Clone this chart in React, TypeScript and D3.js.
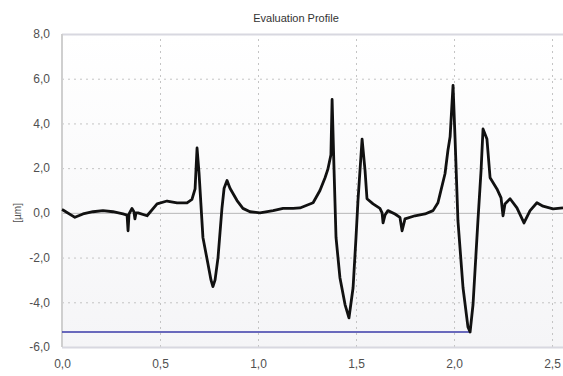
import React, { useEffect, useRef } from "react";
import * as d3 from "d3";

// profile trace, [x in mm, y in µm]
const PROFILE_X = [
	0.0, 0.005, 0.066, 0.107, 0.158, 0.209, 0.26, 0.311, 0.332, 0.337, 0.342, 0.357, 0.367, 0.372, 0.378, 0.388,
	0.434, 0.485, 0.536, 0.587, 0.638, 0.663, 0.679, 0.689, 0.699, 0.719, 0.745, 0.76, 0.77, 0.781,
	0.796, 0.816, 0.827, 0.842, 0.857, 0.893, 0.923, 0.959, 1.01, 1.077, 1.128, 1.179, 1.214, 1.281, 1.316, 1.342,
	1.357, 1.372, 1.378, 1.388, 1.398, 1.418, 1.444, 1.464, 1.485, 1.5, 1.51, 1.531, 1.546, 1.556, 1.587, 1.622,
	1.633, 1.638, 1.648, 1.663, 1.699, 1.724, 1.735, 1.75, 1.801, 1.852, 1.893, 1.918, 1.929, 1.954, 1.969, 1.98,
	1.995, 2.005, 2.02, 2.046, 2.071, 2.082, 2.097, 2.122, 2.138, 2.148, 2.168, 2.184, 2.219, 2.24, 2.25, 2.26,
	2.286, 2.321, 2.357, 2.388, 2.423, 2.454, 2.505, 2.556
];
const PROFILE_Y = [
	0.15, 0.13, -0.2, -0.05, 0.05, 0.1, 0.05, -0.05, -0.1, -0.8, -0.05, 0.2, 0.05, -0.27, 0.0, 0.0,
	-0.13, 0.4, 0.53, 0.45, 0.45, 0.6, 1.07, 2.9, 1.8, -1.1, -2.3, -3.0, -3.3, -3.0,
	-2.0, 0.2, 1.1, 1.45, 1.1, 0.55, 0.2, 0.05, 0.0, 0.1, 0.2, 0.2, 0.22, 0.45, 1.0, 1.57,
	1.97, 2.6, 5.07, 1.9, -1.1, -2.9, -4.1, -4.7, -3.35, -1.1, 0.55, 3.3, 1.9, 0.63, 0.4, 0.2,
	0.0, -0.45, -0.1, 0.1, -0.05, -0.2, -0.8, -0.27, -0.13, -0.05, 0.1, 0.45, 0.85, 1.75, 2.8, 3.4,
	5.7, 3.4, -0.35, -3.35, -5.1, -5.33, -4.1, -0.35, 1.9, 3.75, 3.3, 1.57, 1.07, 0.67, -0.13, 0.4,
	0.63, 0.22, -0.45, 0.1, 0.45, 0.3, 0.18, 0.22
];
const X_TICKS = [0, 0.5, 1.0, 1.5, 2.0, 2.5];
const Y_TICKS = [-6, -4, -2, 0, 2, 4, 6, 8];
const MIN_LINE_X = [0, 2.082];
const MIN_LINE_Y = -5.33;

const W = 563;
const H = 376;
const M = { top: 34, right: 0, bottom: 29, left: 62 };

const fmt = (d: number) => d.toFixed(1).replace(".", ",");

export default function App() {
	const ref = useRef<SVGSVGElement>(null);

	useEffect(() => {
		const svg = d3.select(ref.current);
		svg.selectAll("*").remove();

		const x = d3.scaleLinear().domain([0, 2.556]).range([M.left, W - M.right]);
		const y = d3.scaleLinear().domain([-6, 8]).range([H - M.bottom, M.top]);

		const grad = svg
			.append("defs")
			.append("linearGradient")
			.attr("id", "bg")
			.attr("x1", 0)
			.attr("y1", 0)
			.attr("x2", 0)
			.attr("y2", 1);
		grad.append("stop").attr("offset", "0%").attr("stop-color", "#ffffff");
		grad.append("stop").attr("offset", "100%").attr("stop-color", "#f5f5f7");

		svg
			.append("rect")
			.attr("x", M.left)
			.attr("y", M.top)
			.attr("width", W - M.left - M.right)
			.attr("height", H - M.top - M.bottom)
			.attr("fill", "url(#bg)");

		// grid
		const gx = svg
			.append("g")
			.attr("transform", `translate(0,${H - M.bottom})`)
			.call(
				d3.axisBottom(x)
					.tickValues(X_TICKS)
					.tickSize(-(H - M.top - M.bottom))
					.tickFormat(fmt as any)
					.tickPadding(12)
			);
		gx.select(".domain").remove();
		gx.selectAll(".tick line")
			.attr("stroke", (d: any) => (d === 0 ? "none" : "#c4c4c4"))
			.attr("stroke-dasharray", "2,4");
		gx.selectAll("text")
			.attr("font-family", "Liberation Sans, Arial, sans-serif")
			.attr("font-size", 12)
			.attr("fill", "#505050");

		const gy = svg
			.append("g")
			.attr("transform", `translate(${M.left},0)`)
			.call(
				d3.axisLeft(y)
					.tickValues(Y_TICKS)
					.tickSize(-(W - M.left - M.right))
					.tickFormat(fmt as any)
					.tickPadding(12)
			);
		gy.select(".domain").remove();
		gy.selectAll(".tick line")
			.attr("stroke", (d: any) => (d === 0 ? "#b8b8b8" : d === 8 || d === -6 ? "#d8d8e0" : "#c4c4c4"))
			.attr("stroke-width", (d: any) => (d === 8 || d === -6 ? 2 : 1))
			.attr("stroke-dasharray", (d: any) => (d === 0 || d === 8 || d === -6 ? null : "2,4"));
		gy.selectAll("text")
			.attr("font-family", "Liberation Sans, Arial, sans-serif")
			.attr("font-size", 12)
			.attr("fill", "#505050");

		// left frame
		svg
			.append("line")
			.attr("x1", M.left)
			.attr("x2", M.left)
			.attr("y1", M.top)
			.attr("y2", H - M.bottom)
			.attr("stroke", "#cfcfcf")
			.attr("stroke-width", 2);

		// minimum marker line
		svg
			.append("line")
			.attr("x1", x(MIN_LINE_X[0]))
			.attr("x2", x(MIN_LINE_X[1]))
			.attr("y1", y(MIN_LINE_Y))
			.attr("y2", y(MIN_LINE_Y))
			.attr("stroke", "#3a3aa8")
			.attr("stroke-width", 1.5);

		const data = PROFILE_X.map((d, i) => [d, PROFILE_Y[i]] as [number, number]);
		const line = d3
			.line<[number, number]>()
			.x((d) => x(d[0]))
			.y((d) => y(d[1]));

		svg
			.append("path")
			.datum(data)
			.attr("d", line)
			.attr("fill", "none")
			.attr("stroke", "#111")
			.attr("stroke-width", 2.8)
			.attr("stroke-linejoin", "round");

		svg
			.append("text")
			.attr("x", 296)
			.attr("y", 22)
			.attr("text-anchor", "middle")
			.attr("font-family", "Liberation Sans, Arial, sans-serif")
			.attr("font-size", 11)
			.attr("fill", "#333")
			.text("Evaluation Profile");

		svg
			.append("text")
			.attr("transform", `translate(21,${y(0)}) rotate(-90)`)
			.attr("text-anchor", "middle")
			.attr("font-family", "Liberation Sans, Arial, sans-serif")
			.attr("font-size", 10)
			.attr("fill", "#505050")
			.text("[µm]");
	}, []);

	return (
		<svg
			ref={ref}
			width={W}
			height={H}
			style={{ position: "absolute", left: 0, top: 0, background: "#fff" }}
		></svg>
	);
}
